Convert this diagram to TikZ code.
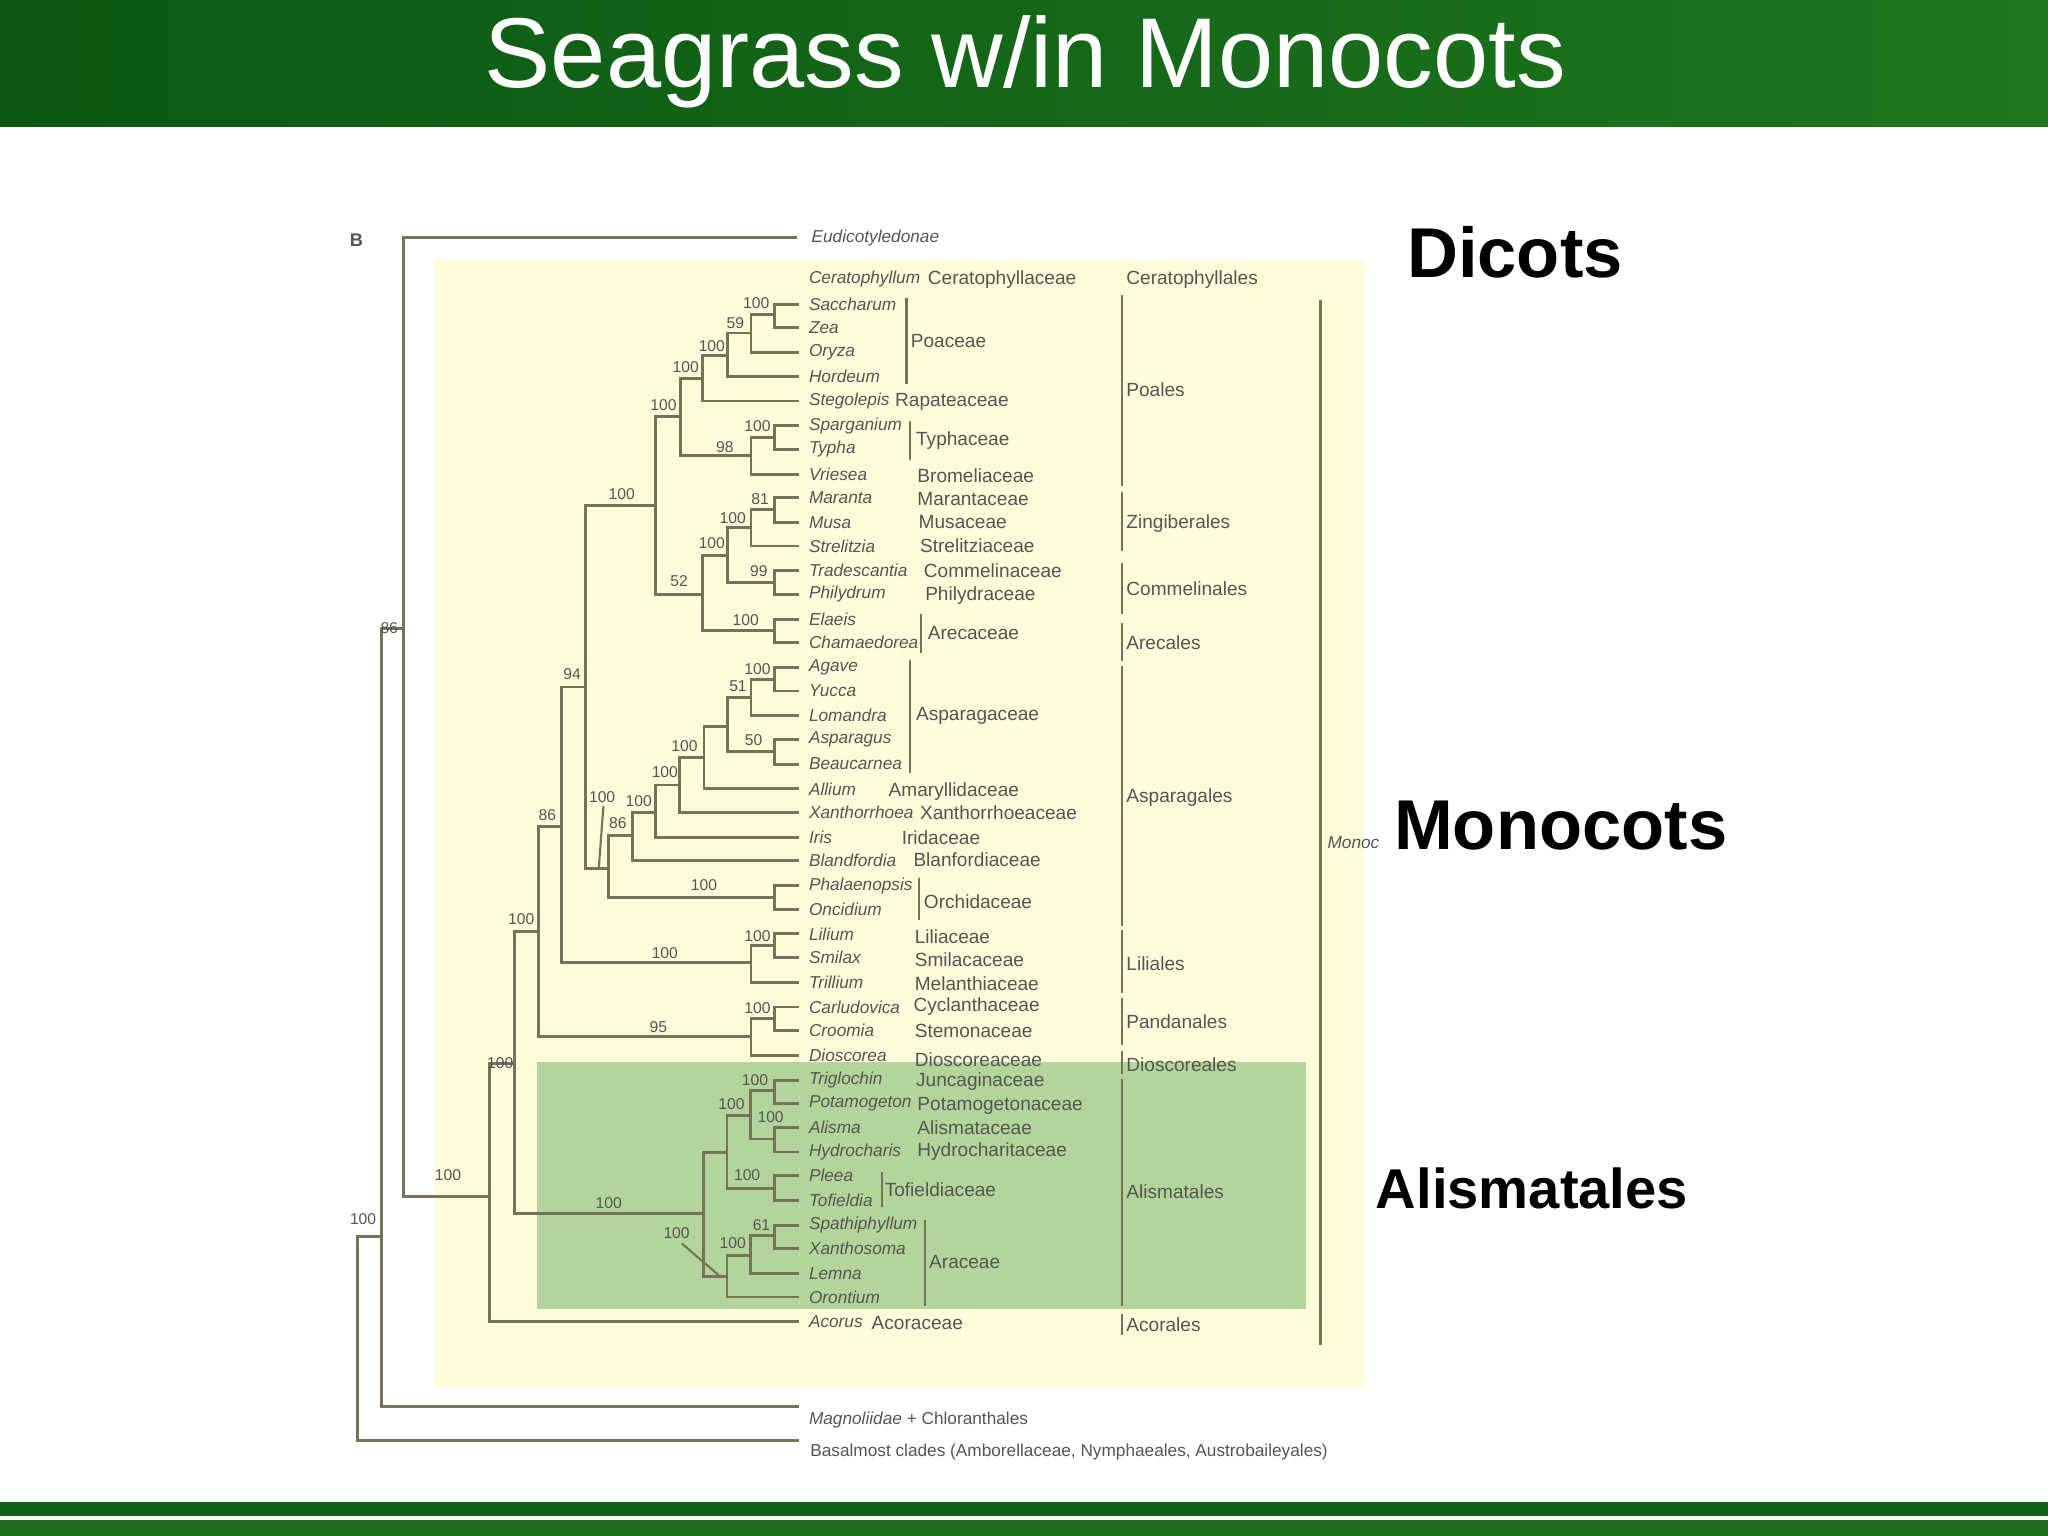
\documentclass[tikz,border=0pt]{standalone}
\usepackage{fontspec}
\setmainfont{Liberation Sans}
\begin{document}
\begin{tikzpicture}[x=0.5pt,y=-0.5pt,
  tr/.style={draw=treec,line width=1.1pt},
  bs/.style={font=\fontsize{6}{6}\selectfont,text=txtc,inner sep=0pt},
  gn/.style={font=\fontsize{6.6}{7}\selectfont\itshape,text=txtc,anchor=west,inner sep=0pt},
  fm/.style={font=\fontsize{7.3}{8}\selectfont,text=txtc,anchor=west,inner sep=0pt},
  big/.style={font=\bfseries\fontsize{27}{30}\selectfont,anchor=west,inner sep=0pt}]
\definecolor{treec}{HTML}{76735A}
\definecolor{txtc}{HTML}{555555}
\definecolor{yel}{HTML}{FEFBDA}
\definecolor{grn}{HTML}{B3D49A}
\definecolor{hdA}{RGB}{12,88,18}
\definecolor{hdB}{RGB}{30,118,30}
\definecolor{ftA}{RGB}{18,96,22}
\definecolor{ftB}{RGB}{28,112,28}
\useasboundingbox (0,0) rectangle (1568,1176);
\fill[white] (0,0) rectangle (1568,1176);
% header
\shade[left color=hdA,right color=hdB] (0,0) rectangle (1568,97);
\node[text=white,font=\fontsize{38}{40}\selectfont,inner sep=0pt] (title) at (785,47) {Seagrass w/in Monocots};
% footer
\fill[ftA] (0,1150) rectangle (1568,1161);
\fill[ftB] (0,1164) rectangle (1568,1176);
% backgrounds
\fill[yel] (333,199) rectangle (1044,1062);
\fill[grn] (411,813) rectangle (1000,1002);
\node[font=\bfseries\fontsize{7}{8}\selectfont,text=txtc,inner sep=0pt] (B) at (273,184) {B};
\newcommand{\cl}[5]{\draw[tr] (#3,#2)--(#1,#2)--(#1,#4)--(#5,#4);}
\def\T{612}
% outer
\draw[tr] (610,182)--(309,182)--(309,916)--(375,916);
\draw[tr] (309,481)--(292,481)--(292,1077)--(612,1077);
\draw[tr] (292,947)--(274,947)--(274,1103)--(612,1103);
% monocots
\cl{375}{814}{394}{1012}{\T}
\cl{394}{713}{412}{929}{538.5}
\cl{412}{633}{430}{793.5}{575}
\cl{575}{780}{593}{808}{\T}
\cl{593}{771}{\T}{789}{\T}
\cl{430}{526}{448}{737}{575}
\cl{575}{724}{593}{752}{\T}
\cl{593}{715}{\T}{733}{\T}
\cl{448}{387}{502}{665}{466}
\cl{466}{640}{484}{687}{593}
\cl{593}{678}{\T}{696}{\T}
\cl{484}{622}{502}{659}{\T}
\cl{502}{601}{520}{641}{\T}
\cl{520}{580}{539}{622}{\T}
\cl{539}{556}{557}{604}{\T}
\cl{557}{534}{575}{575.5}{593}
\cl{575}{520}{593}{548}{\T}
\cl{593}{511}{\T}{529}{\T}
\cl{593}{566}{\T}{585}{\T}
% commelinids
\cl{502}{319}{521}{455}{538}
\cl{521}{290}{538}{348.5}{575}
\cl{538}{272}{557}{307}{\T}
\cl{557}{255}{575}{288}{\T}
\cl{575}{241}{593}{270}{\T}
\cl{593}{233}{\T}{251}{\T}
\cl{575}{335}{593}{363}{\T}
\cl{593}{326}{\T}{344}{\T}
\cl{538}{425.5}{557}{482.6}{593}
\cl{593}{474}{\T}{492}{\T}
\cl{557}{404}{575}{446}{593}
\cl{593}{437}{\T}{455}{\T}
\cl{575}{390}{593}{418}{\T}
\cl{593}{381}{\T}{400}{\T}
% alismatales
\cl{538.5}{882.6}{556.6}{977.5}{556.6}
\cl{556.6}{854}{574.6}{910}{593}
\cl{593}{900}{\T}{919}{\T}
\cl{574.6}{835}{593}{872}{593}
\cl{593}{827}{\T}{845}{\T}
\cl{593}{863}{\T}{882}{\T}
\cl{556.6}{961}{574.6}{993}{\T}
\cl{574.6}{946}{593}{975}{\T}
\cl{593}{938}{\T}{956}{\T}
\draw[tr,line width=0.8pt] (462,617)--(458.5,664);
\draw[tr,line width=0.8pt] (522,952)--(551,977);
% bootstrap
\foreach \x/\y/\t in {579/232/100,563/247/59,545/265/100,525/281/100,508/310/100,580/326/100,555/342/98,476/378/100,582/382/81,561/397/100,545/416/100,581/437/99,520/445/52,571/475/100,298/481/86,580/512/100,438/516/94,565/525/51,524/571/100,577/567/50,509/591/100,461/610/100,489/613/100,419/624/86,473/630/86,539/678/100,399/704/100,580/717/100,509/730/100,580/772/100,504/786/95,383/814/100,578/827/100,560/845/100,590/855/100,343/900/100,572/900/100,466/921/100,278/933/100,583/938/61,518/944/100,561/952/100}
  \node[bs] at (\x,\y) {\t};
% genus names
\node[gn] (eud) at (621,182) {Eudicotyledonae};
\foreach \y/\t in {214/Ceratophyllum,233/Saccharum,251/Zea,270/Oryza,288/Hordeum,307/Stegolepis,326/Sparganium,344/Typha,363/Vriesea,381/Maranta,400/Musa,418/Strelitzia,437/Tradescantia,455/Philydrum,474/Elaeis,492/Chamaedorea,511/Agave,529/Yucca,548/Lomandra,566/Asparagus,585/Beaucarnea,604/Allium,622/Xanthorrhoea,641/Iris,659/Blandfordia,678/Phalaenopsis,696/Oncidium,715/Lilium,733/Smilax,752/Trillium,771/Carludovica,789/Croomia,808/Dioscorea,827/Triglochin,845/Potamogeton,863/Alisma,882/Hydrocharis,900/Pleea,919/Tofieldia,938/Spathiphyllum,956/Xanthosoma,975/Lemna,993/Orontium,1012/Acorus}
  \node[gn] at (619,\y) {\t};
\node[gn] (mag) at (619,1087) {Magnoliidae \upshape+ Chloranthales};
\node[fm,font=\fontsize{6.6}{7}\selectfont] (bas) at (620,1112) {Basalmost clades (Amborellaceae, Nymphaeales, Austrobaileyales)};
% family names
\foreach \x/\y/\t in {710/214/Ceratophyllaceae,697/261/Poaceae,685/308/Rapateaceae,701/337/Typhaceae,702/364/Bromeliaceae,702/382/Marantaceae,703/400/Musaceae,704/418/Strelitziaceae,707/437/Commelinaceae,708/456/Philydraceae,710/485/Arecaceae,701/548/Asparagaceae,680/606/Amaryllidaceae,704/622/Xanthorrhoeaceae,690/641/Iridaceae,699/658/Blanfordiaceae,707/690/Orchidaceae,700/717/Liliaceae,700/735/Smilacaceae,700/753/Melanthiaceae,699/771/Cyclanthaceae,700/789/Stemonaceae,700/811/Dioscoreaceae,701/828/Juncaginaceae,702/847/Potamogetonaceae,702/863/Alismataceae,702/882/Hydrocharitaceae,677/911/Tofieldiaceae,711/966/Araceae,667/1013/Acoraceae}
  \node[fm] at (\x,\y) {\t};
% family bars
\foreach \x/\a/\b in {694/228/294,697/322/352,705/470/500,697/505/592,703.5/672/704,675/897/924,708/934/1000}
  \draw[tr,line width=0.8pt] (\x,\a)--(\x,\b);
% order bars and names
\foreach \a/\b in {226/372,377/422,431/470,477/506,510/709,712/760,764/800,805/822,826/1000,1006/1022}
  \draw[tr,line width=0.9pt] (859,\a)--(859,\b);
\foreach \y/\t in {214/Ceratophyllales,298/Poales,401/Zingiberales,451/Commelinales,492/Arecales,611/Asparagales,738/Liliales,782/Pandanales,815/Dioscoreales,912/Alismatales,1014/Acorales}
  \node[fm] at (862,\y) {\t};
\draw[tr,line width=0.9pt] (1011,230)--(1011,1030);
\node[gn] (monoc) at (1016,645) {Monoc};
% big labels
\node[big] (dicots) at (1077,193) {Dicots};
\node[big] (monocots) at (1067,632) {Monocots};
\node[big,font=\bfseries\fontsize{21.5}{24}\selectfont] (alis) at (1053,910) {Alismatales};
\end{tikzpicture}
\end{document}
